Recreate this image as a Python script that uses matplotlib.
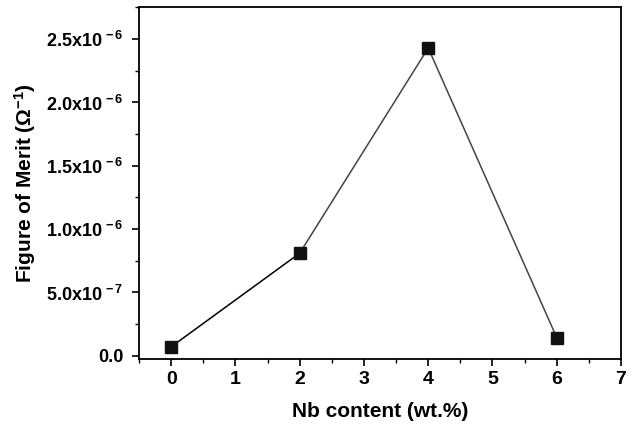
import matplotlib
matplotlib.use('Agg')
import matplotlib.pyplot as plt
from matplotlib.ticker import MultipleLocator, FuncFormatter

# dados
nb_content = [0, 2, 4, 6]
figure_of_merit = [0.071e-6, 0.81e-6, 2.43e-6, 0.144e-6]

plt.rcParams['font.family'] = 'Liberation Sans'
plt.rcParams['font.weight'] = 'bold'
plt.rcParams['mathtext.fontset'] = 'custom'
plt.rcParams['mathtext.rm'] = 'Liberation Sans:bold'
plt.rcParams['mathtext.bf'] = 'Liberation Sans:bold'
plt.rcParams['mathtext.it'] = 'Liberation Sans:bold'

fig = plt.figure(figsize=(6.32, 4.28), dpi=100)
ax = fig.add_axes([0.22, 0.161, 0.7626, 0.823])

# primeiro segmento preto, o resto cinza escuro
ax.plot(nb_content[:2], figure_of_merit[:2], color='black', lw=1.1, zorder=2)
ax.plot(nb_content[1:], figure_of_merit[1:], color='#444444', lw=1.1, zorder=2)
ax.plot(nb_content, figure_of_merit, 's', color='#111111', ms=9, zorder=3)

ax.set_xlim(-0.5, 7)
ax.set_ylim(-0.026e-6, 2.755e-6)

ax.xaxis.set_major_locator(MultipleLocator(1))
ax.xaxis.set_minor_locator(MultipleLocator(0.5))
ax.yaxis.set_major_locator(MultipleLocator(0.5e-6))
ax.yaxis.set_minor_locator(MultipleLocator(0.25e-6))


def fmt_y(v, pos):
    if abs(v) < 1e-12:
        return '0.0'
    exp = 0
    m = v
    while abs(m) < 1:
        m *= 10
        exp -= 1
    return r'$%.1f\mathrm{x10}^{\,%d}$' % (m, exp)


ax.yaxis.set_major_formatter(FuncFormatter(fmt_y))

ax.tick_params(which='both', direction='out', top=False, right=False)
ax.tick_params(which='major', length=5, width=1.2, labelsize=14)
ax.tick_params(axis='y', which='major', labelsize=13, pad=6)
ax.tick_params(which='minor', length=3, width=1.0)
for s in ax.spines.values():
    s.set_linewidth(1.3)

ax.set_xlabel('Nb content (wt.%)', fontsize=15, fontweight='bold', labelpad=10)
ax.set_ylabel(r'Figure of Merit ($\Omega^{-1}$)', fontsize=15, fontweight='bold', labelpad=6)

plt.savefig('out.png', dpi=100)
